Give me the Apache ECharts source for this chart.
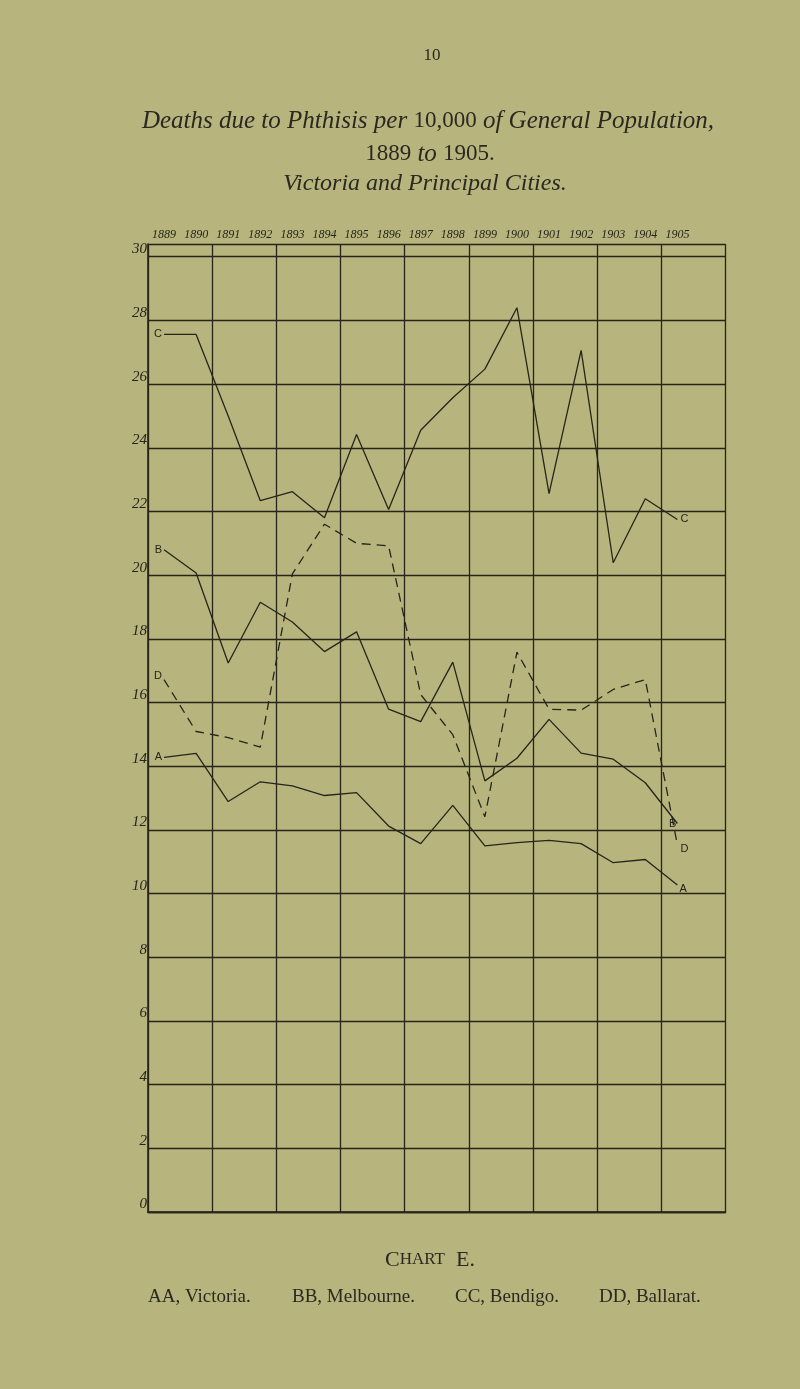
<!DOCTYPE html>
<html>
<head>
<meta charset="utf-8">
<script src="https://cdn.jsdelivr.net/npm/echarts@6/dist/echarts.min.js"></script>
<style>
html,body{margin:0;padding:0;background:#b7b47d;}
#c{width:800px;height:1389px;}
</style>
</head>
<body>
<div id="c"></div>
<script>
// ---- data (deaths from phthisis per 10,000 population) ----
const years = [1889,1890,1891,1892,1893,1894,1895,1896,1897,1898,1899,1900,1901,1902,1903,1904,1905];
const victoriaA  = [14.28,14.4,12.89,13.51,13.38,13.08,13.17,12.12,11.57,12.77,11.5,11.6,11.67,11.57,10.97,11.07,10.27];
const melbourneB = [20.8,20.07,17.24,19.15,18.53,17.6,18.22,15.79,15.4,17.27,13.54,14.25,15.47,14.41,14.22,13.48,12.2];
const bendigoC   = [27.56,27.56,25.0,22.34,22.62,21.8,24.42,22.06,24.55,25.57,26.47,28.4,22.56,27.06,20.39,22.4,21.75];
const ballaratD  = [16.72,15.09,14.9,14.6,20.04,21.6,21.0,20.92,16.25,14.99,12.41,17.58,15.79,15.76,16.41,16.72,11.53];
const yTicks = [0,2,4,6,8,10,12,14,16,18,20,22,24,26,28,30];
const headerYears = years.map(String).concat(['']);

const ink = '#26251b';

function mk(vals, letter, startOpt, endOpt) {
  return vals.map((v, i) => {
    const d = { value: [i + 0.5, v] };
    if (i === 0) d.label = Object.assign({ show: true, formatter: letter }, startOpt);
    if (i === vals.length - 1) d.label = Object.assign({ show: true, formatter: letter }, endOpt);
    return d;
  });
}
const lbl = { color: ink, fontFamily: 'Liberation Sans', fontSize: 11 };

function series(name, vals, letter, dashed, startOpt, endOpt) {
  return {
    name, type: 'line', data: mk(vals, letter, Object.assign({}, lbl, startOpt), Object.assign({}, lbl, endOpt)),
    symbol: 'circle', symbolSize: 0.1, showSymbol: true,
    itemStyle: { color: ink },
    lineStyle: { color: ink, width: 1.3, type: dashed ? [9, 6] : 'solid' },
    label: { show: false }, silent: true, animation: false, z: 5
  };
}

const chart = echarts.init(document.getElementById('c'), null, { renderer: 'canvas' });
chart.setOption({
  backgroundColor: '#b7b47d',
  animation: false,
  grid: { left: 148, right: 74.5, top: 244, bottom: 177 },
  xAxis: [
    { type: 'value', min: 0, max: 18, interval: 2, position: 'bottom',
      axisLine: { show: true, onZero: false, lineStyle: { color: ink, width: 1.6 } },
      axisTick: { show: false }, axisLabel: { show: false },
      splitLine: { show: true, lineStyle: { color: ink, width: 1.3 } } },
    { type: 'category', data: headerYears, boundaryGap: true, position: 'top',
      axisLine: { show: true, lineStyle: { color: ink, width: 1.4 } },
      axisTick: { show: false },
      axisLabel: { show: true, interval: 0, margin: 3, color: ink,
        fontFamily: 'Liberation Serif', fontStyle: 'italic', fontSize: 12 },
      splitLine: { show: false } }
  ],
  yAxis: {
    type: 'value', min: 0, max: 30.4, interval: 2,
    axisLine: { show: true, lineStyle: { color: ink, width: 1.6 } },
    axisTick: { show: false },
    axisLabel: { show: true, margin: 1, color: ink, fontFamily: 'Liberation Serif',
      fontStyle: 'italic', fontSize: 15, verticalAlign: 'bottom',
      formatter: v => (yTicks.indexOf(Math.round(v * 1000) / 1000) >= 0 ? String(v) : '') },
    splitLine: { show: true, lineStyle: { color: ink, width: 1.3 } }
  },
  series: [
    series('AA, Victoria', victoriaA, 'A', false, { position: 'left', distance: 2 }, { position: 'right', distance: 2, offset: [0, 4] }),
    series('BB, Melbourne', melbourneB, 'B', false, { position: 'left', distance: 2 }, { position: 'left', distance: 1, offset: [0, 0] }),
    series('CC, Bendigo', bendigoC, 'C', false, { position: 'left', distance: 2 }, { position: 'right', distance: 3 }),
    series('DD, Ballarat', ballaratD, 'D', true, { position: 'left', distance: 2, offset: [0, -4] }, { position: 'right', distance: 3, offset: [0, 4] })
  ],
  graphic: [
    { type: 'text', x: 432, y: 56, style: { text: '10', align: 'center', verticalAlign: 'middle', fill: '#2a2920', font: '17px "Liberation Serif", serif' } },
    { type: 'text', x: 428, y: 121, style: {
        text: '{i|Deaths due to Phthisis per }{n|10,000}{i| of General Population,}',
        align: 'center', verticalAlign: 'middle',
        rich: { i: { font: 'italic 25px "Liberation Serif", serif', fill: '#2a2920' },
                n: { font: '23px "Liberation Serif", serif', fill: '#2a2920' } } } },
    { type: 'text', x: 430, y: 154, style: {
        text: '{n|1889}{i| to }{n|1905.}', align: 'center', verticalAlign: 'middle',
        rich: { i: { font: 'italic 25px "Liberation Serif", serif', fill: '#2a2920' },
                n: { font: '23px "Liberation Serif", serif', fill: '#2a2920' } } } },
    { type: 'text', x: 425, y: 184, style: {
        text: 'Victoria and Principal Cities.', align: 'center', verticalAlign: 'middle',
        font: 'italic 24px "Liberation Serif", serif', fill: '#2a2920' } },
    { type: 'text', x: 430, y: 1260, style: {
        text: '{a|C}{b|HART}{a|  E.}', align: 'center', verticalAlign: 'middle',
        rich: { a: { font: '22px "Liberation Serif", serif', fill: '#2a2920' },
                b: { font: '17px "Liberation Serif", serif', fill: '#2a2920' } } } },
    { type: 'text', x: 148, y: 1297, style: { text: 'AA, Victoria.', verticalAlign: 'middle', font: '19px "Liberation Serif", serif', fill: '#2a2920' } },
    { type: 'text', x: 292, y: 1297, style: { text: 'BB, Melbourne.', verticalAlign: 'middle', font: '19px "Liberation Serif", serif', fill: '#2a2920' } },
    { type: 'text', x: 455, y: 1297, style: { text: 'CC, Bendigo.', verticalAlign: 'middle', font: '19px "Liberation Serif", serif', fill: '#2a2920' } },
    { type: 'text', x: 599, y: 1297, style: { text: 'DD, Ballarat.', verticalAlign: 'middle', font: '19px "Liberation Serif", serif', fill: '#2a2920' } }
  ]
});
</script>
</body>
</html>
